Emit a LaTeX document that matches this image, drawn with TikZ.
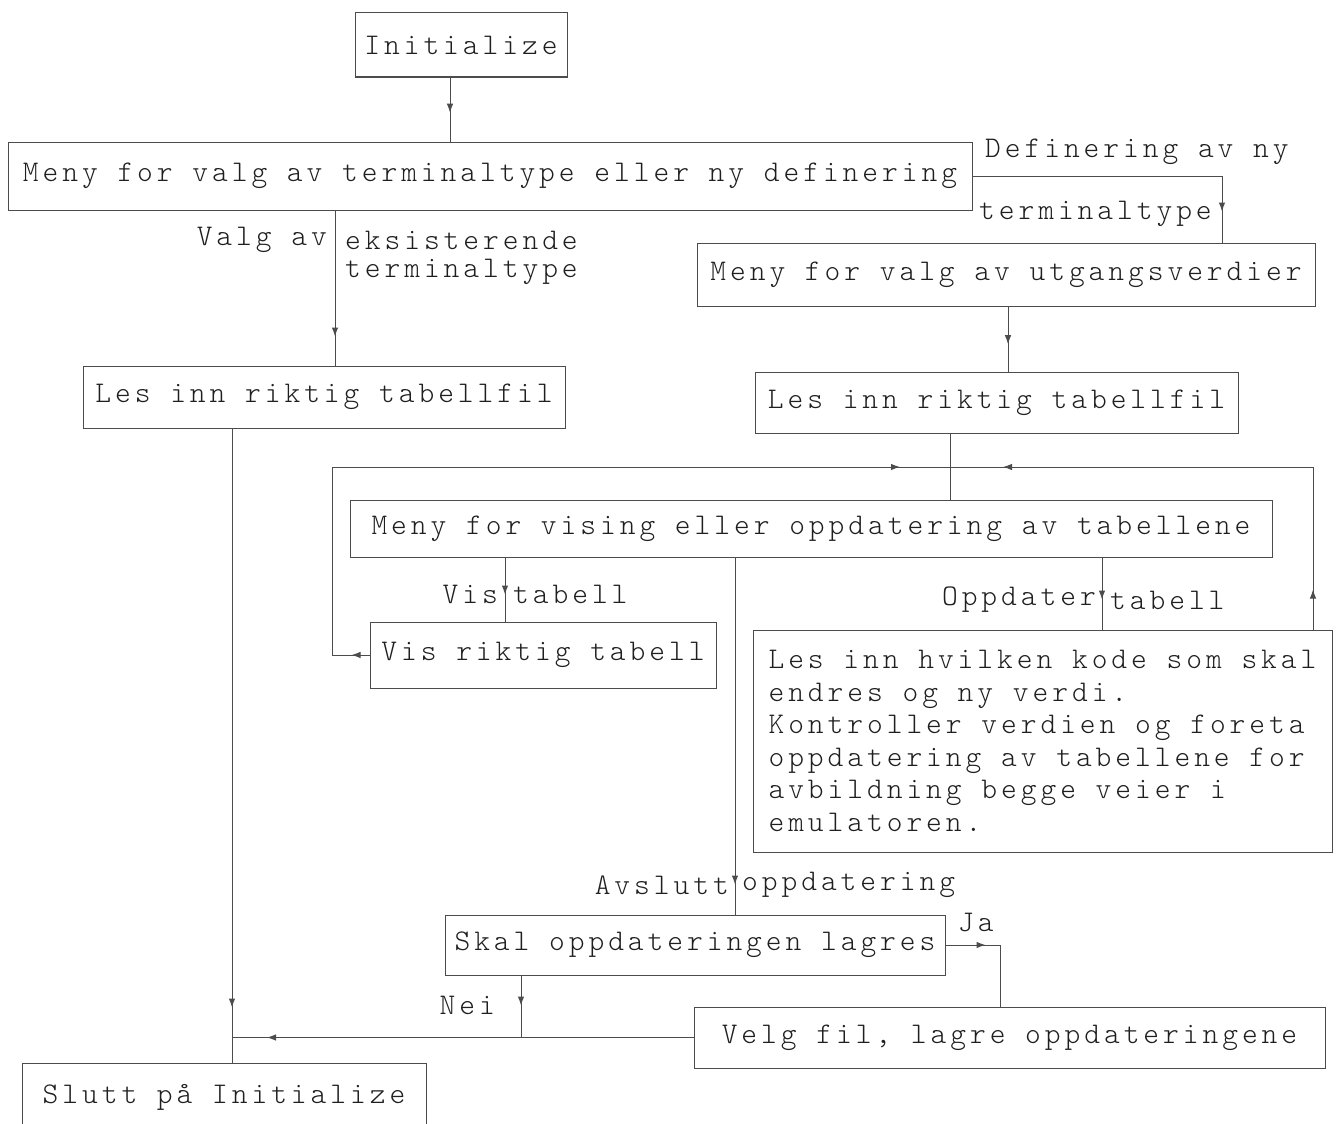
\documentclass[tikz,border=0pt]{standalone}
\usepackage{fontspec}
\newfontfamily\twfont{lmmonolt10-regular}[Extension=.otf,LetterSpace=13.2]
\usetikzlibrary{arrows.meta,decorations.markings}
\definecolor{ln}{gray}{0.3}
\definecolor{txt}{gray}{0.12}
\begin{document}
\begin{tikzpicture}[x=1pt,y=-1pt,
  tw/.style={font=\twfont\fontsize{30}{32.5}\selectfont, text=txt},
  box/.style={tw, draw=ln, line width=1pt, inner sep=0pt, align=center},
  lab/.style={tw, inner sep=0pt},
  conn/.style={draw=ln, line width=1pt},
  tip/.tip={Latex[length=9pt,width=6.5pt]},
  mk/.style={postaction={decorate}, decoration={markings, mark=at position #1 with {\arrow{tip}}}},
  mkk/.style 2 args={postaction={decorate}, decoration={markings,
      mark=at position #1 with {\arrow{tip}},
      mark=at position #2 with {\arrow{tip}}}}]
\useasboundingbox (0,0) rectangle (1341,1124);
\clip (0,0) rectangle (1341,1124);
\fill[white] (0,0) rectangle (1341,1124);

% boxes
\node[box, minimum width=212pt, minimum height=64pt] (init) at (461,45) {Initialize};
\node[box, minimum width=964pt, minimum height=68pt] (meny) at (490,176) {Meny for valg av terminaltype eller ny definering};
\node[box, minimum width=618pt, minimum height=63pt] (utg) at (1006,274.5) {Meny for valg av utgangsverdier};
\node[box, minimum width=482pt, minimum height=62pt] (lesL) at (324,397) {Les inn riktig tabellfil};
\node[box, minimum width=483pt, minimum height=61pt] (lesR) at (996.5,402.5) {Les inn riktig tabellfil};
\node[box, minimum width=922pt, minimum height=57pt] (vis) at (811,528.5) {Meny for vising eller oppdatering av tabellene};
\node[box, minimum width=346pt, minimum height=66pt] (visrik) at (543,655) {Vis riktig tabell};
\node[box, minimum width=579pt, minimum height=222pt, align=left] (upd) at (1042.5,741)
  {Les inn hvilken kode som skal\\endres og ny verdi.\\Kontroller verdien og foreta\\oppdatering av tabellene for\\avbildning begge veier i\\emulatoren.};
\node[box, minimum width=500pt, minimum height=60pt] (skal) at (695,945) {Skal oppdateringen lagres};
\node[box, minimum width=631pt, minimum height=61pt] (velg) at (1009.5,1037.5) {Velg fil, lagre oppdateringene};
\node[box, minimum width=404pt, minimum height=68pt] (slutt) at (224,1097) {Slutt på Initialize};

\coordinate (jn) at (950,467);

% connectors
\draw[conn, mk=0.55] ([xshift=-11pt]init.south) -- ([xshift=-11pt]init.south |- meny.north);
\draw[conn, mk=-31pt] (meny.east) -| ([xshift=216pt]utg.north);
\draw[conn, mk=-29pt] ([xshift=-155pt]meny.south) -- ([xshift=-155pt]meny.south |- lesL.north);
\draw[conn, mk=0.58] ([xshift=2pt]utg.south) -- ([xshift=2pt]utg.south |- lesR.north);
\draw[conn] ([xshift=-46.5pt]lesR.south) -- ([xshift=-46.5pt]lesR.south |- vis.north);
\draw[conn, mkk={18pt}{-50pt}] (visrik.west) -- ++(-37,0) |- (jn);
\draw[conn, mkk={40pt}{-53pt}] ([xshift=270.5pt]upd.north) |- (jn);
\draw[conn, mk=-27pt] ([xshift=-306pt]vis.south) -- ([xshift=-306pt]vis.south |- visrik.north);
\draw[conn, mk=-30pt] ([xshift=291pt]vis.south) -- ([xshift=291pt]vis.south |- upd.north);
\draw[conn, mk=-30pt] ([xshift=-76pt]vis.south) -- ([xshift=-76pt]vis.south |- skal.north);
\draw[conn, mk=40pt] (skal.east) -| ([xshift=-9.5pt]velg.north);
\draw[conn, mk=-32pt] ([xshift=-174pt]skal.south) -- ([xshift=-174pt]skal.south |- velg.west);
\draw[conn, mk=-35pt] (velg.west) -- ([xshift=-92pt]lesL.south |- velg.west);
\draw[conn, mk=-55pt] ([xshift=-92pt]lesL.south) -- ([xshift=-92pt]lesL.south |- slutt.north);

% labels
\node[lab, anchor=west] (l1) at (985,152) {Definering av ny};
\node[lab, anchor=west] (l2) at (979,214) {terminaltype};
\node[lab, anchor=east] (l3) at (327,240) {Valg av};
\node[lab, anchor=west] (l4) at (345,240) {eksisterende};
\node[lab, anchor=west] (l5) at (345,272) {terminaltype};
\node[lab, anchor=east] (l6) at (498,594) {Vis};
\node[lab, anchor=west] (l7) at (513,594) {tabell};
\node[lab, anchor=east] (l8) at (1096,600) {Oppdater};
\node[lab, anchor=west] (l9) at (1110,600) {tabell};
\node[lab, anchor=east] (l10) at (729,885) {Avslutt};
\node[lab, anchor=west] (l11) at (742,885) {oppdatering};
\node[lab, anchor=west] (l12) at (958,922) {Ja};
\node[lab, anchor=east] (l13) at (495,1005) {Nei};
\end{tikzpicture}
\end{document}
